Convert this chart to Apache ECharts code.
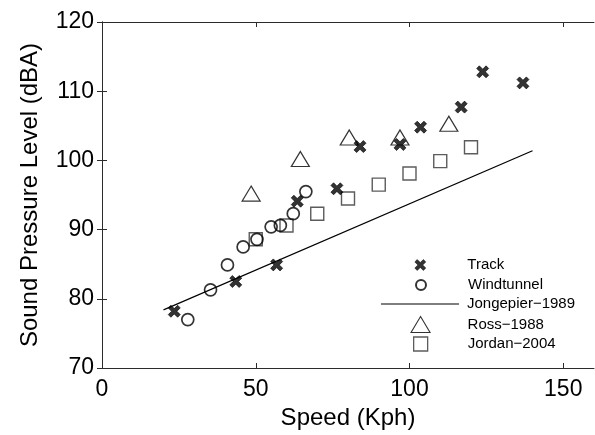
<!DOCTYPE html>
<html>
<head>
<meta charset="utf-8">
<script src="https://cdn.jsdelivr.net/npm/echarts@6/dist/echarts.min.js"></script>
<style>
html,body{margin:0;padding:0;background:#fff;}
#chart{width:595px;height:435px;}
</style>
</head>
<body>
<div id="chart"></div>
<script>
// ---- data ----
const trackX = [23.5, 43.5, 56.8, 63.5, 76.4, 83.9, 96.9, 103.6, 116.8, 123.8, 136.9];
const trackY = [78.2, 82.5, 84.9, 94.1, 95.9, 102.0, 102.3, 104.8, 107.7, 112.8, 111.2];
const windX = [27.9, 35.3, 40.8, 45.9, 50.4, 55.0, 58.0, 62.2, 66.3];
const windY = [77.0, 81.3, 84.9, 87.5, 88.6, 90.4, 90.6, 92.3, 95.5];
const jongX = [20, 140];
const jongY = [78.4, 101.4];
const rossX = [48.5, 64.5, 80.4, 96.9, 112.8];
const rossY = [95.2, 100.2, 103.3, 103.3, 105.3];
const jordanX = [50, 60, 70, 80, 90, 100, 110, 120];
const jordanY = [88.6, 90.6, 92.3, 94.5, 96.5, 98.1, 99.9, 101.9];
const xTicks = [0, 50, 100, 150];
const yTicks = [70, 80, 90, 100, 110, 120];
const names = ['Track', 'Windtunnel', 'Jongepier\u22121989', 'Ross\u22121988', 'Jordan\u22122004'];

const zip = (a, b) => a.map((v, i) => [v, b[i]]);
const FONT = 'Liberation Sans, Arial, sans-serif';
const AX = '#2b2b2b';
const X_PATH = 'path://M0,2.2 L2.2,0 L5,2.8 L7.8,0 L10,2.2 L7.2,5 L10,7.8 L7.8,10 L5,7.2 L2.2,10 L0,7.8 L2.8,5 Z';

const chart = echarts.init(document.getElementById('chart'), null, {renderer: 'canvas'});

// legend layout: icon centre x=420, text starts at x=467
const legendCenters = [265, 285, 304, 324, 344];
const legendIconW = [11, 10, 78, 19, 14];
const legendIconH = [11, 10, 1.2, 16, 14];
const legendIcons = [X_PATH, 'circle', 'rect', 'triangle', 'rect'];
const legendStyles = [
  {color: '#000', borderColor: '#000', borderWidth: 0.6},
  {color: 'rgba(255,255,255,0)', borderColor: '#000', borderWidth: 2},
  {color: '#000', borderWidth: 0},
  {color: 'rgba(255,255,255,0)', borderColor: '#000', borderWidth: 1.1},
  {color: 'rgba(255,255,255,0)', borderColor: '#333', borderWidth: 1.3}
];
const legends = names.map((n, i) => {
  const w = legendIconW[i];
  const h = Math.max(legendIconH[i], 16);
  return {
    data: [{name: n, icon: legendIcons[i], itemStyle: legendStyles[i]}], orient: 'vertical',
    left: 420 - w / 2, top: legendCenters[i] - h / 2,
    padding: 0, itemWidth: w, itemHeight: legendIconH[i], selectedMode: false,
    textStyle: {fontFamily: FONT, fontSize: 15, color: '#000', lineHeight: 16,
      padding: [0, 0, 0, Math.max(0, 42 - w / 2)]}
  };
});

const option = {
  backgroundColor: '#fff',
  animation: false,
  grid: {left: 102, right: 1, top: 22, bottom: 66},
  legend: legends,
  xAxis: [{
    type: 'value', min: 0, max: 160, interval: 50, position: 'bottom',
    name: 'Speed (Kph)', nameLocation: 'middle', nameGap: 38,
    nameTextStyle: {fontFamily: FONT, fontSize: 24, color: '#000'},
    axisLine: {show: true, lineStyle: {color: AX, width: 1}},
    axisTick: {show: true, inside: true, length: 5, lineStyle: {color: AX}, customValues: xTicks},
    axisLabel: {fontFamily: FONT, fontSize: 23, color: '#000', margin: 10, customValues: xTicks},
    splitLine: {show: false}
  }, {
    type: 'value', min: 0, max: 160, interval: 50, position: 'top',
    axisLine: {show: true, lineStyle: {color: AX, width: 1}},
    axisTick: {show: true, inside: true, length: 5, lineStyle: {color: AX}, customValues: xTicks},
    axisLabel: {show: false}, splitLine: {show: false}
  }],
  yAxis: [{
    type: 'value', min: 70, max: 120, interval: 10, position: 'left',
    name: 'Sound Pressure Level (dBA)', nameLocation: 'middle', nameGap: 60,
    nameTextStyle: {fontFamily: FONT, fontSize: 24, color: '#000'},
    axisLine: {show: true, lineStyle: {color: AX, width: 1}},
    axisTick: {show: true, inside: true, length: 5, lineStyle: {color: AX}, customValues: yTicks},
    axisLabel: {fontFamily: FONT, fontSize: 23, color: '#000', margin: 8, customValues: yTicks},
    splitLine: {show: false}
  }, {
    type: 'value', min: 70, max: 120, interval: 10, position: 'right',
    axisLine: {show: true, lineStyle: {color: AX, width: 1}},
    axisTick: {show: true, inside: true, length: 5, lineStyle: {color: AX}, customValues: yTicks},
    axisLabel: {show: false}, splitLine: {show: false}
  }],
  series: [{
    name: names[2], type: 'line', data: zip(jongX, jongY), symbol: 'none',
    lineStyle: {color: '#000', width: 1.2}, itemStyle: {color: '#000'}, z: 2
  }, {
    name: names[3], type: 'scatter', data: zip(rossX, rossY), symbol: 'triangle',
    symbolSize: [18, 15],
    itemStyle: {color: 'rgba(255,255,255,0)', borderColor: '#000', borderWidth: 1.2}, z: 3
  }, {
    name: names[4], type: 'scatter', data: zip(jordanX, jordanY), symbol: 'rect',
    symbolSize: 13,
    itemStyle: {color: 'rgba(255,255,255,0)', borderColor: '#333', borderWidth: 1.4}, z: 3
  }, {
    name: names[1], type: 'scatter', data: zip(windX, windY), symbol: 'circle',
    symbolSize: 12,
    itemStyle: {color: 'rgba(255,255,255,0)', borderColor: '#000', borderWidth: 1.7}, z: 4
  }, {
    name: names[0], type: 'scatter', data: zip(trackX, trackY), symbol: X_PATH,
    symbolSize: 12, itemStyle: {color: '#000', borderColor: '#000', borderWidth: 0.8}, z: 5
  }]
};
chart.setOption(option);
</script>
</body>
</html>
